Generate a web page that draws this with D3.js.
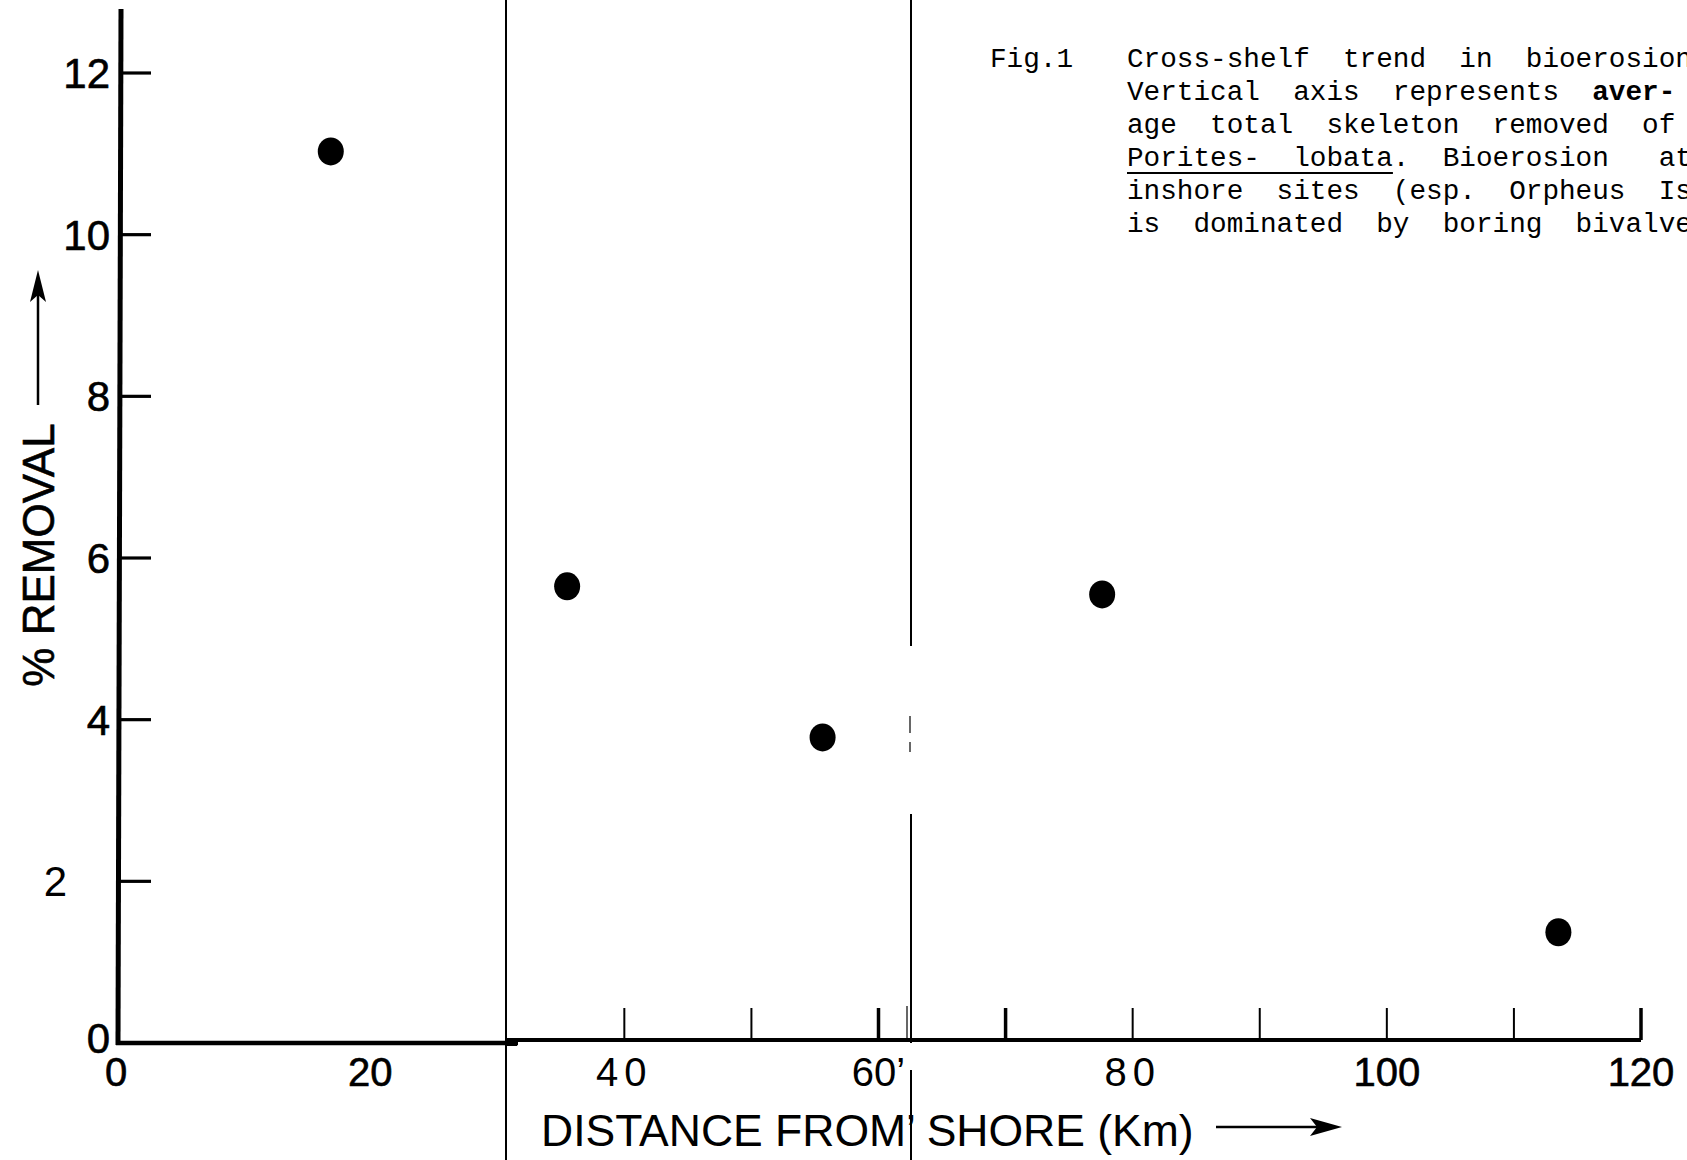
<!DOCTYPE html>
<html>
<head>
<meta charset="utf-8">
<script src="https://cdn.jsdelivr.net/npm/d3@7"></script>
<style>
  html, body { margin: 0; padding: 0; background: #fff; }
  svg { display: block; }
</style>
</head>
<body>
<svg id="chart" width="1687" height="1160"></svg>
<script>
// ---- data ----
const distanceKm = [16.9, 35.5, 55.6, 77.6, 113.5];
const removalPct = [11.03, 5.65, 3.78, 5.55, 1.37];
const yTickValues = [0, 2, 4, 6, 8, 10, 12];
const yTickLabels = ["0", "2", "4", "6", "8", "10", "12"];
const xTickMarks = [40, 50, 60, 70, 80, 90, 100, 110, 120];
const xLabelValues = [0, 20, 40, 60, 80, 100, 120];
const xTickLabels = ["0", "20", "40", "60\u2019", "80", "100", "120"];
const yAxisTitle = "% REMOVAL";
const xAxisTitle = "DISTANCE FROM\u2019 SHORE (Km)";
const captionLead = "Fig.1";
const captionLines = [
  "Cross-shelf  trend  in  bioerosion",
  "Vertical  axis  represents  aver-",
  "age  total  skeleton  removed  of",
  "Porites-  lobata.  Bioerosion   at",
  "inshore  sites  (esp.  Orpheus  Is.)",
  "is  dominated  by  boring  bivalves"
];

// ---- drawing ----
const svg = d3.select("#chart");
const x = d3.scaleLinear().domain([0, 120]).range([116, 1641]);
const y = d3.scaleLinear().domain([0, 12]).range([1043, 73]);
const sans = "'Liberation Sans', Arial, Helvetica, sans-serif";
const mono = "'Liberation Mono', 'Courier New', monospace";
// hand-lettered (heavier) labels vs typed (thin) labels
const heavyY = d => d !== 2;
const heavyX = d => !(d === 40 || d === 60 || d === 80);

// separator vertical lines (part of the page)
const sepX1 = 506, sepX2 = 911;
svg.append("line").attr("x1", sepX1).attr("x2", sepX1).attr("y1", 0).attr("y2", 1160)
  .attr("stroke", "#000").attr("stroke-width", 2);
[[0, 646], [814, 1043], [1070, 1160]].forEach(([a, b]) => {
  svg.append("line").attr("x1", sepX2).attr("x2", sepX2).attr("y1", a).attr("y2", b)
    .attr("stroke", "#000").attr("stroke-width", 2);
});
[[716, 733], [742, 752]].forEach(([a, b]) => {
  svg.append("line").attr("x1", sepX2 - 1).attr("x2", sepX2 - 1).attr("y1", a).attr("y2", b)
    .attr("stroke", "#000").attr("stroke-width", 1.2);
});
svg.append("line").attr("x1", sepX2 - 4).attr("x2", sepX2 - 4).attr("y1", 1006).attr("y2", 1040)
  .attr("stroke", "#000").attr("stroke-width", 1.2);

// y axis line
svg.append("path")
  .attr("d", `M${x(0) + 5},9 L${x(0) + 2},${y(0) + 2}`)
  .attr("stroke", "#000").attr("stroke-width", 5).attr("fill", "none");

// x axis line (two pieces)
svg.append("line").attr("x1", x(0)).attr("x2", sepX1 + 12).attr("y1", y(0)).attr("y2", y(0))
  .attr("stroke", "#000").attr("stroke-width", 4.5);
svg.append("line").attr("x1", sepX1).attr("x2", x(120)).attr("y1", y(0) - 3).attr("y2", y(0) - 3)
  .attr("stroke", "#000").attr("stroke-width", 4);
svg.append("rect").attr("x", sepX1 - 1).attr("y", y(0) - 4).attr("width", 12).attr("height", 7).attr("fill", "#000");

// y ticks
svg.selectAll(".ytick").data(yTickValues.filter(d => d > 0)).join("line")
  .attr("class", "ytick")
  .attr("x1", x(0) + 3).attr("x2", x(0) + 35)
  .attr("y1", d => y(d)).attr("y2", d => y(d))
  .attr("stroke", "#000").attr("stroke-width", 3.2);

// y tick labels
svg.selectAll(".ylab").data(yTickValues).join("text")
  .attr("class", "ylab")
  .attr("x", d => d === 2 ? 67 : 110)
  .attr("y", d => y(d) - (d === 0 ? 5 : 0))
  .attr("dy", "0.36em")
  .attr("text-anchor", "end")
  .attr("font-family", sans).attr("font-size", 42)
  .attr("stroke", d => heavyY(d) ? "#000" : "none")
  .attr("stroke-width", 0.6)
  .text((d, i) => yTickLabels[i]);

// x tick marks
svg.selectAll(".xtick").data(xTickMarks).join("line")
  .attr("class", "xtick")
  .attr("x1", d => x(d)).attr("x2", d => x(d))
  .attr("y1", y(0) - 3).attr("y2", y(0) - 35)
  .attr("stroke", "#000")
  .attr("stroke-width", d => (d === 60 || d === 70 || d === 120) ? 3.5 : 2);

// x tick labels
svg.selectAll(".xlab").data(xLabelValues).join("text")
  .attr("class", "xlab")
  .attr("x", d => x(d))
  .attr("y", 1086)
  .attr("text-anchor", "middle")
  .attr("font-family", sans).attr("font-size", 40)
  .attr("letter-spacing", d => (d === 40 || d === 80) ? 6 : 0)
  .attr("stroke", d => heavyX(d) ? "#000" : "none")
  .attr("stroke-width", 0.6)
  .text((d, i) => xTickLabels[i]);

// data points
svg.selectAll(".pt").data(distanceKm).join("ellipse")
  .attr("class", "pt")
  .attr("cx", d => x(d))
  .attr("cy", (d, i) => y(removalPct[i]))
  .attr("rx", 13).attr("ry", 14)
  .attr("fill", "#000");

// y axis title with arrow
svg.append("text")
  .attr("transform", "translate(54,555) rotate(-90)")
  .attr("text-anchor", "middle")
  .attr("font-family", sans).attr("font-size", 44)
  .attr("stroke", "#000").attr("stroke-width", 0.6)
  .text(yAxisTitle);
svg.append("line").attr("x1", 38).attr("x2", 38).attr("y1", 405).attr("y2", 295)
  .attr("stroke", "#000").attr("stroke-width", 2.5);
svg.append("path").attr("d", "M38,270 L46,302 L38,295 L30,302 Z").attr("fill", "#000");

// x axis title with arrow
svg.append("text")
  .attr("x", 541).attr("y", 1146)
  .attr("font-family", sans).attr("font-size", 44.5)
  .text(xAxisTitle);
svg.append("line").attr("x1", 1216).attr("x2", 1318).attr("y1", 1127).attr("y2", 1127)
  .attr("stroke", "#000").attr("stroke-width", 2.5);
svg.append("path").attr("d", "M1342,1127 L1310,1118 L1317,1127 L1310,1136 Z").attr("fill", "#000");

// caption
svg.append("text").attr("x", 990).attr("y", 67)
  .attr("font-family", mono).attr("font-size", 27.7)
  .text(captionLead);
const cap = svg.append("g").attr("font-family", mono).attr("font-size", 27.7)
  .style("white-space", "pre");
captionLines.forEach((line, i) => {
  const t = cap.append("text").attr("x", 1127).attr("y", 67 + i * 33).attr("xml:space", "preserve");
  if (line.endsWith("aver-")) {
    t.append("tspan").text(line.slice(0, -5));
    t.append("tspan").attr("font-weight", "bold").text("aver-");
  } else {
    t.text(line);
  }
});
// underline for species name
const charW = 27.7 * 0.6;
svg.append("line").attr("x1", 1127).attr("x2", 1127 + 16 * charW)
  .attr("y1", 67 + 3 * 33 + 7).attr("y2", 67 + 3 * 33 + 7)
  .attr("stroke", "#000").attr("stroke-width", 2.2);
</script>
</body>
</html>
